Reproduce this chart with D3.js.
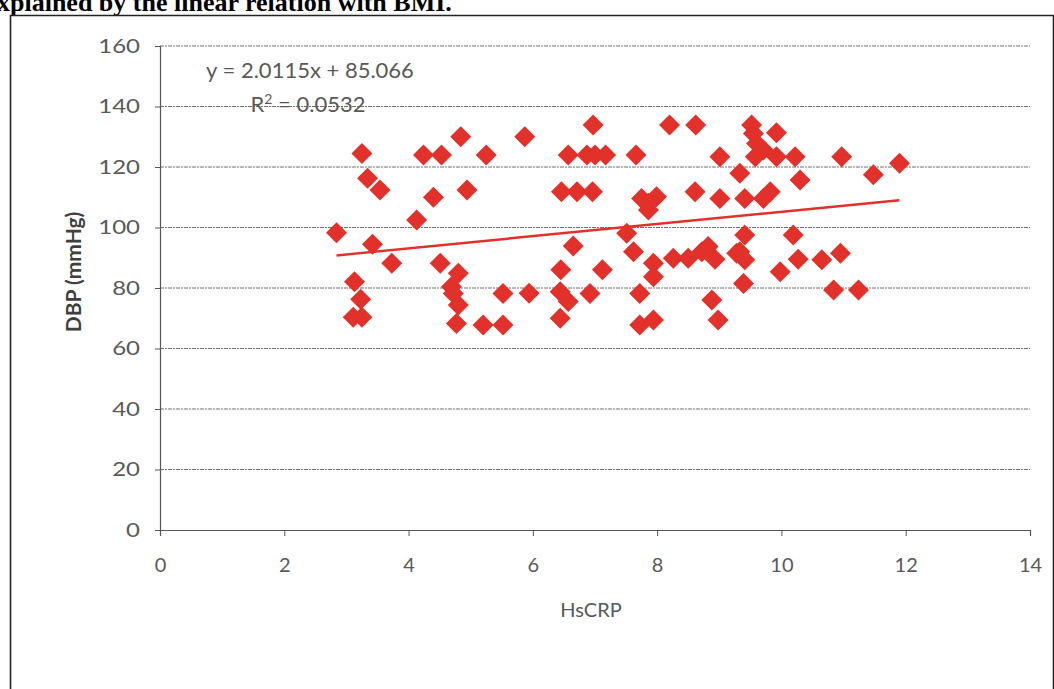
<!DOCTYPE html>
<html>
<head>
<meta charset="utf-8">
<script src="https://cdn.jsdelivr.net/npm/d3@7"></script>
<style>
  html, body { margin: 0; padding: 0; background: #fff; }
  svg { display: block; }
</style>
</head>
<body>
<svg id="chart" width="1054" height="689"></svg>
<script>
// HsCRP (x) and diastolic blood pressure (y) for each subject
const hsCRP = [
  2.84, 3.25, 3.34, 3.54, 3.42, 3.73, 3.13, 3.23, 3.11, 3.25,
  4.13, 4.24, 4.53, 4.84, 5.25, 5.87, 4.40, 4.94, 4.51, 4.80,
  4.69, 4.72, 4.80, 4.77, 5.20, 5.52, 5.52, 5.94, 6.57, 6.87,
  7.00, 7.17, 6.97, 7.66, 6.46, 6.71, 6.96, 6.65, 6.45, 6.44,
  6.57, 6.44, 6.92, 7.12, 7.51, 7.62, 7.75, 7.99, 7.86, 7.86,
  7.72, 7.72, 7.94, 7.94, 7.94, 8.20, 8.62, 8.61, 9.01, 9.01,
  8.26, 8.50, 8.72, 8.82, 8.93, 8.88, 8.98, 9.52, 9.55, 9.60,
  9.58, 9.71, 9.92, 9.92, 10.22, 9.33, 10.30, 9.41, 9.71, 9.82,
  9.41, 10.19, 9.28, 9.41, 9.39, 9.98, 10.27, 10.97, 11.48, 11.90,
  10.65, 10.95, 10.84, 11.24, 9.33
];
const dbp = [
  98.3, 124.5, 116.3, 112.4, 94.5, 88.2, 82.1, 76.3, 70.3, 70.3,
  102.5, 124, 124, 130, 124, 130, 110, 112.4, 88.2, 84.9,
  80.4, 78.2, 74.4, 68.3, 67.8, 67.8, 78.2, 78.3, 124, 124,
  124, 124, 133.9, 124, 111.8, 111.8, 111.8, 93.9, 86, 78.8,
  75.5, 70, 78.2, 86, 98.1, 92, 109.6, 110.2, 105.8, 108,
  78.2, 67.8, 69.4, 88.2, 83.7, 133.9, 133.9, 111.8, 123.4, 109.6,
  89.8, 89.8, 92, 93.7, 89.5, 76, 69.4, 133.9, 131.1, 127.8,
  123.4, 125.6, 131.3, 123.4, 123.4, 117.9, 115.7, 109.6, 109.6, 111.8,
  97.5, 97.5, 91.5, 89.3, 81.5, 85.4, 89.5, 123.4, 117.4, 121.2,
  89.3, 91.5, 79.3, 79.3, 92
];

// Linear fit reported on the chart
const slope = 2.0115;
const intercept = 85.066;
const rSquared = 0.0532;
const fitRange = [2.84, 11.9];

const xTicks = [0, 2, 4, 6, 8, 10, 12, 14];
const yTicks = [0, 20, 40, 60, 80, 100, 120, 140, 160];

const svg = d3.select("#chart");
const plot = { left: 160, right: 1030, top: 46, bottom: 530 };

const x = d3.scaleLinear().domain([0, 14]).range([plot.left, plot.right]);
const y = d3.scaleLinear().domain([0, 160]).range([plot.bottom, plot.top]);

const grey = "#595959";
const labelFont = "Lato, 'Open Sans', sans-serif";

// page caption running off the top of the frame
svg.append("text")
  .attr("x", -3).attr("y", 11)
  .attr("font-family", "'Liberation Serif', 'Times New Roman', serif")
  .attr("font-weight", "bold")
  .attr("font-size", 26)
  .attr("fill", "#000")
  .text("xplained by the linear relation with BMI.");

// figure frame
svg.append("path")
  .attr("d", "M10.5,689 V15.5 H1053.5 V689")
  .attr("fill", "none")
  .attr("stroke", "#222")
  .attr("stroke-width", 1.6);

// horizontal gridlines
svg.append("g")
  .selectAll("line")
  .data(yTicks.filter(d => d > 0))
  .join("line")
  .attr("x1", plot.left).attr("x2", plot.right)
  .attr("y1", d => y(d)).attr("y2", d => y(d))
  .attr("stroke", "#707070")
  .attr("stroke-width", 1)
  .attr("stroke-dasharray", "4,1,2,1");

// y axis
const yAxis = svg.append("g")
  .attr("transform", `translate(${plot.left},0)`)
  .call(d3.axisLeft(y).tickValues(yTicks).tickSize(5));
yAxis.select(".domain").attr("stroke", "#555").attr("stroke-width", 1.2);
yAxis.selectAll(".tick line").attr("stroke", "#555");
yAxis.selectAll(".tick text")
  .attr("font-family", labelFont)
  .attr("font-size", 20)
  .attr("fill", grey)
  .attr("text-anchor", "end")
  .attr("transform", "scale(1.2,1)")
  .attr("x", -20 / 1.2);

// x axis
const xAxis = svg.append("g")
  .attr("transform", `translate(0,${plot.bottom})`)
  .call(d3.axisBottom(x).tickValues(xTicks).tickSize(6).tickPadding(22));
xAxis.select(".domain").attr("stroke", "#555").attr("stroke-width", 1.2);
xAxis.selectAll(".tick line").attr("stroke", "#555");
xAxis.selectAll(".tick text")
  .attr("font-family", labelFont)
  .attr("font-size", 20)
  .attr("fill", grey);

// axis titles
svg.append("text")
  .attr("transform", "translate(81,272) rotate(-90)")
  .attr("text-anchor", "middle")
  .attr("font-family", labelFont)
  .attr("font-weight", "bold")
  .attr("font-size", 21)
  .attr("fill", "#404040")
  .text("DBP (mmHg)");

svg.append("text")
  .attr("x", 591)
  .attr("y", 617)
  .attr("text-anchor", "middle")
  .attr("font-family", labelFont)
  .attr("font-size", 20)
  .attr("fill", grey)
  .text("HsCRP");

// scatter points as diamonds
const points = hsCRP.map((v, i) => ({ x: v, y: dbp[i] }));
const half = 10.5;
svg.append("g")
  .selectAll("path")
  .data(points)
  .join("path")
  .attr("transform", d => `translate(${x(d.x)},${y(d.y)})`)
  .attr("d", `M0,${-half} L${half},0 L0,${half} L${-half},0 Z`)
  .attr("fill", "#e2302a");

// linear trend line
svg.append("line")
  .attr("x1", x(fitRange[0])).attr("y1", y(slope * fitRange[0] + intercept))
  .attr("x2", x(fitRange[1])).attr("y2", y(slope * fitRange[1] + intercept))
  .attr("stroke", "#e2302a")
  .attr("stroke-width", 2.5);

// regression equation
svg.append("text")
  .attr("x", 310).attr("y", 78)
  .attr("text-anchor", "middle")
  .attr("font-family", labelFont)
  .attr("font-size", 22)
  .attr("fill", grey)
  .text(`y = ${slope}x + ${intercept}`);

const r2 = svg.append("text")
  .attr("x", 308).attr("y", 112)
  .attr("text-anchor", "middle")
  .attr("font-family", labelFont)
  .attr("font-size", 22)
  .attr("fill", grey);
r2.append("tspan").text("R");
r2.append("tspan").attr("font-size", 14).attr("dy", -8).text("2");
r2.append("tspan").attr("dy", 8).text(` = ${rSquared}`);
</script>
</body>
</html>
